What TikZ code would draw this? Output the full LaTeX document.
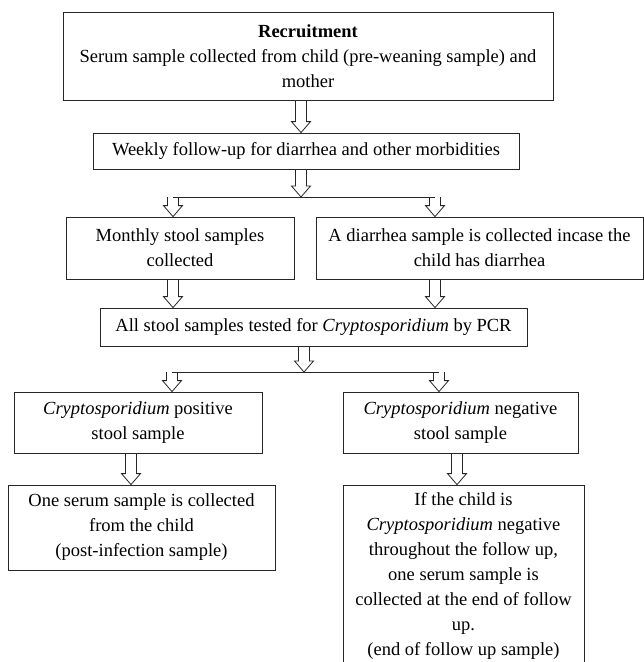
\documentclass[tikz,border=0pt]{standalone}
\usepackage{fontspec}
\setmainfont{Liberation Serif}
\usetikzlibrary{calc}
\newcommand{\crypto}{\textit{Cryptosporidium}}
\tikzset{
	box/.style={draw=black!85, line width=0.8pt, align=center, inner sep=0pt,
		font=\fontsize{18.5}{25}\selectfont},
	hollow/.style={draw=black!85, line width=0.8pt, to path={
		let \p1=(\tikztostart), \p2=(\tikztotarget) in
		(\x1-5.5pt,\y1) -- (\x1-5.5pt,\y2+11pt) -- (\x1-9.5pt,\y2+11pt) -- (\x1,\y2)
		-- (\x1+9.5pt,\y2+11pt) -- (\x1+5.5pt,\y2+11pt) -- (\x1+5.5pt,\y1)}},
	branch/.style={draw=black!85, line width=0.8pt}
}

\begin{document}
\begin{tikzpicture}[x=1pt,y=-1pt]
	\useasboundingbox (0,0) rectangle (644,662);

	% boxes
	\node[box, minimum width=490, minimum height=88] (recruit) at (308,56)
		{\textbf{Recruitment}\\Serum sample collected from child (pre-weaning sample) and\\mother};
	\node[box, minimum width=426, minimum height=36] (weekly) at (306,151)
		{Weekly follow-up for diarrhea and other morbidities};
	\node[box, minimum width=228, minimum height=62] (monthly) at (180,248)
		{Monthly stool samples\\collected};
	\node[box, minimum width=327, minimum height=62] (diarrhea) at (479.5,248)
		{A diarrhea sample is collected incase the\\child has diarrhea};
	\node[box, minimum width=427, minimum height=38] (pcr) at (313.5,327)
		{All stool samples tested for \crypto{} by PCR};
	\node[box, minimum width=248, minimum height=61] (pos) at (138,422.5)
		{\crypto{} positive\\stool sample};
	\node[box, minimum width=235, minimum height=61] (neg) at (460.5,422.5)
		{\crypto{} negative\\stool sample};
	\node[box, minimum width=267, minimum height=85] (serumpos) at (141.5,527.5)
		{One serum sample is collected\\from the child\\(post-infection sample)};
	\node[box, minimum width=241, minimum height=182] (serumneg) at (463.5,576)
		{If the child is\\\crypto{} negative\\throughout the follow up,\\one serum sample is\\collected at the end of follow\\up.\\(end of follow up sample)};

	% branch points
	\coordinate (split1) at (301,197);
	\coordinate (left1) at (173,197);
	\coordinate (right1) at (435,197);
	\coordinate (split2) at (304,372);
	\coordinate (left2) at (172,372);
	\coordinate (right2) at (439,372);
	\coordinate (colpos) at (131,0);
	\coordinate (colneg) at (457,0);

	% arrows
	\draw[hollow] (recruit.south -| split1) to (weekly.north -| split1);
	\draw[hollow] (weekly.south -| split1) to (split1);
	\draw[branch] (left1) -- (right1);
	\draw[hollow] (left1) to (monthly.north -| left1);
	\draw[hollow] (right1) to (diarrhea.north -| right1);
	\draw[hollow] (monthly.south -| left1) to (pcr.north -| left1);
	\draw[hollow] (diarrhea.south -| right1) to (pcr.north -| right1);
	\draw[hollow] (pcr.south -| split2) to (split2);
	\draw[branch] (left2) -- (right2);
	\draw[hollow] (left2) to (pos.north -| left2);
	\draw[hollow] (right2) to (neg.north -| right2);
	\draw[hollow] (pos.south -| colpos) to (serumpos.north -| colpos);
	\draw[hollow] (neg.south -| colneg) to (serumneg.north -| colneg);
\end{tikzpicture}
\end{document}
